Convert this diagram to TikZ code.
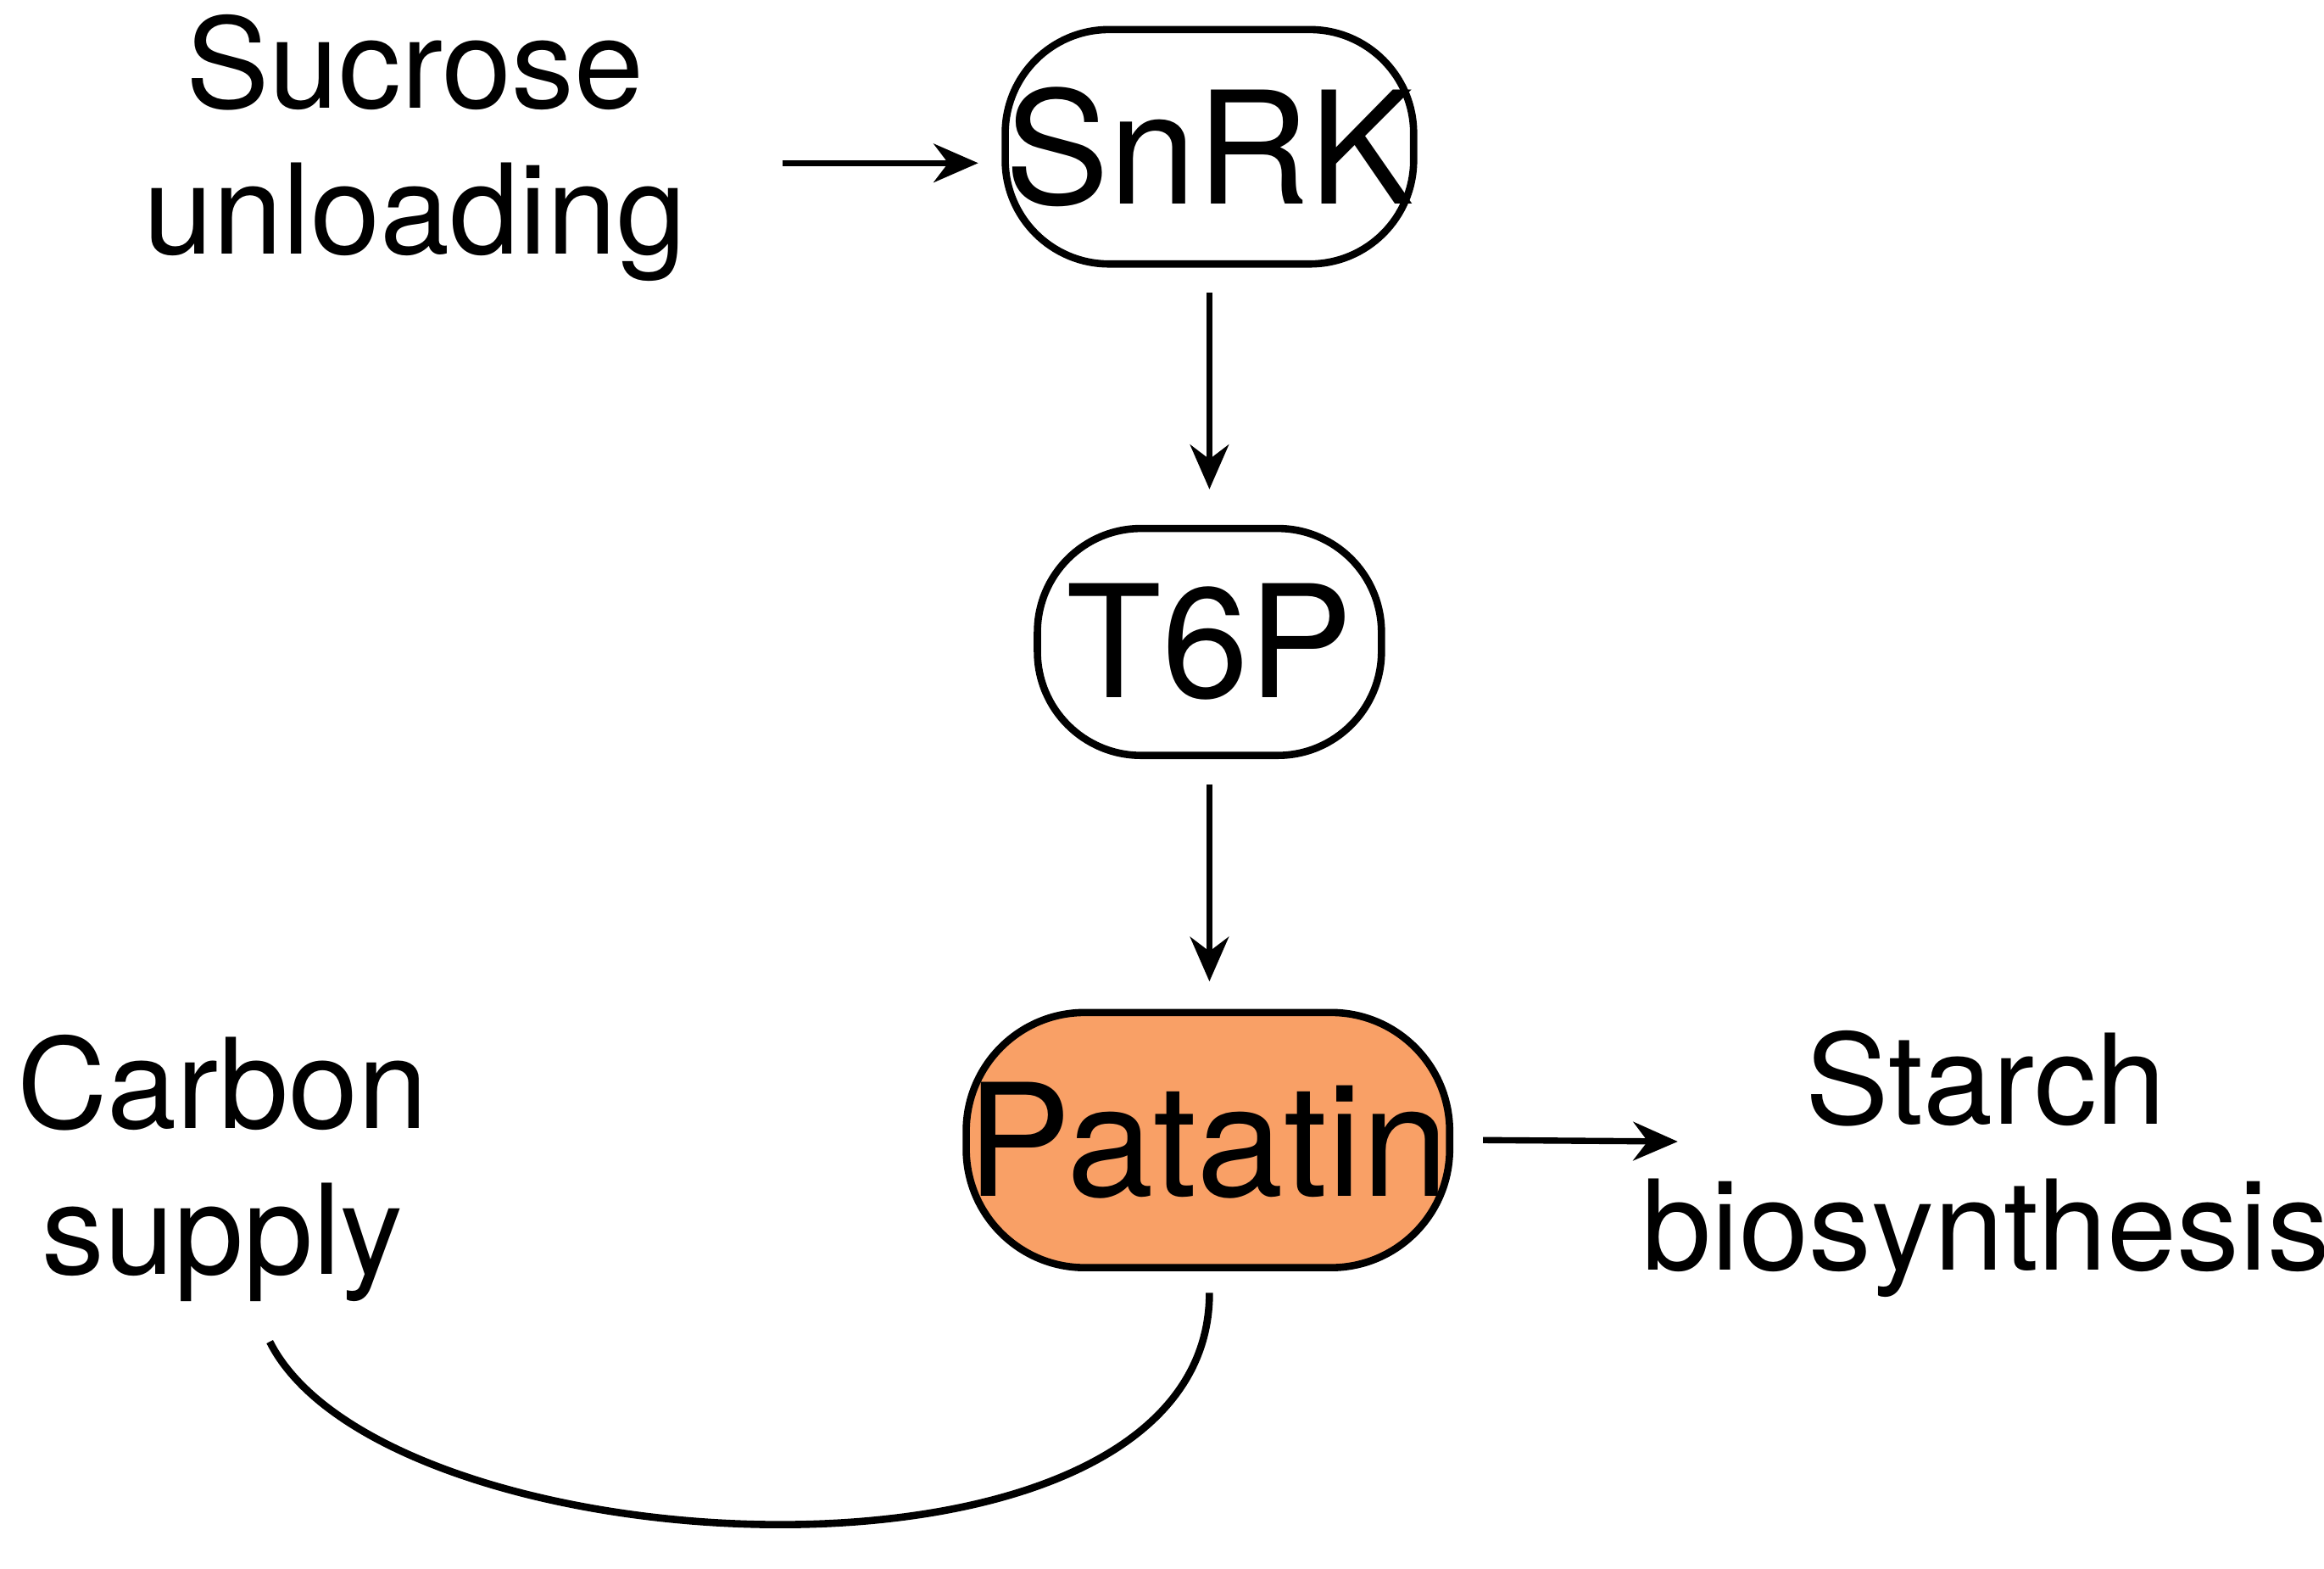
\documentclass[tikz,border=0pt]{standalone}
\usepackage{fontspec}
\setmainfont{TeX Gyre Heros}
\usetikzlibrary{arrows.meta}
\definecolor{pat}{HTML}{F9A066}
\begin{document}
\begin{tikzpicture}[x=0.01cm,y=-0.01cm,
  box/.style={draw,line width=1.4pt,rounded corners=0.7cm,inner sep=0pt,font=\fontsize{30}{34}\selectfont},
  lbl/.style={align=center,font=\fontsize{24}{28}\selectfont},
  arr/.style={-{Stealth[length=0.3cm,width=0.26cm]},line width=1.2pt}]
\useasboundingbox (0,0) rectangle (1568,1058);
\node[lbl] (suc) at (280,100) {Sucrose\\unloading};
\node[box,minimum width=2.72cm,minimum height=1.58cm] (snrk) at (816,99) {SnRK};
\node[box,minimum width=2.32cm,minimum height=1.53cm] (t6p) at (816,433) {T6P};
\node[box,fill=pat,minimum width=3.26cm,minimum height=1.72cm,rounded corners=0.8cm] (pat) at (815,769) {Patatin};
\node[lbl] (starch) at (1340,785) {Starch\\biosynthesis};
\node[lbl] (carb) at (150,788) {Carbon\\supply};
\coordinate (a1) at (528,110); \coordinate (a2) at (660,110);
\draw[arr] (a1) -- (a2);
\draw[arr] (snrk.south) ++(0,17) coordinate (b1) -- (816,330);
\draw[arr] (t6p.south) ++(0,17) -- (816,662);
\draw[arr] (pat.east) ++(20,0) -- (1132,770);
\coordinate (c0) at (182,905);
\draw[line width=1.4pt] (c0) .. controls (260,1060) and (816,1090) .. (816,872);
\end{tikzpicture}
\end{document}
